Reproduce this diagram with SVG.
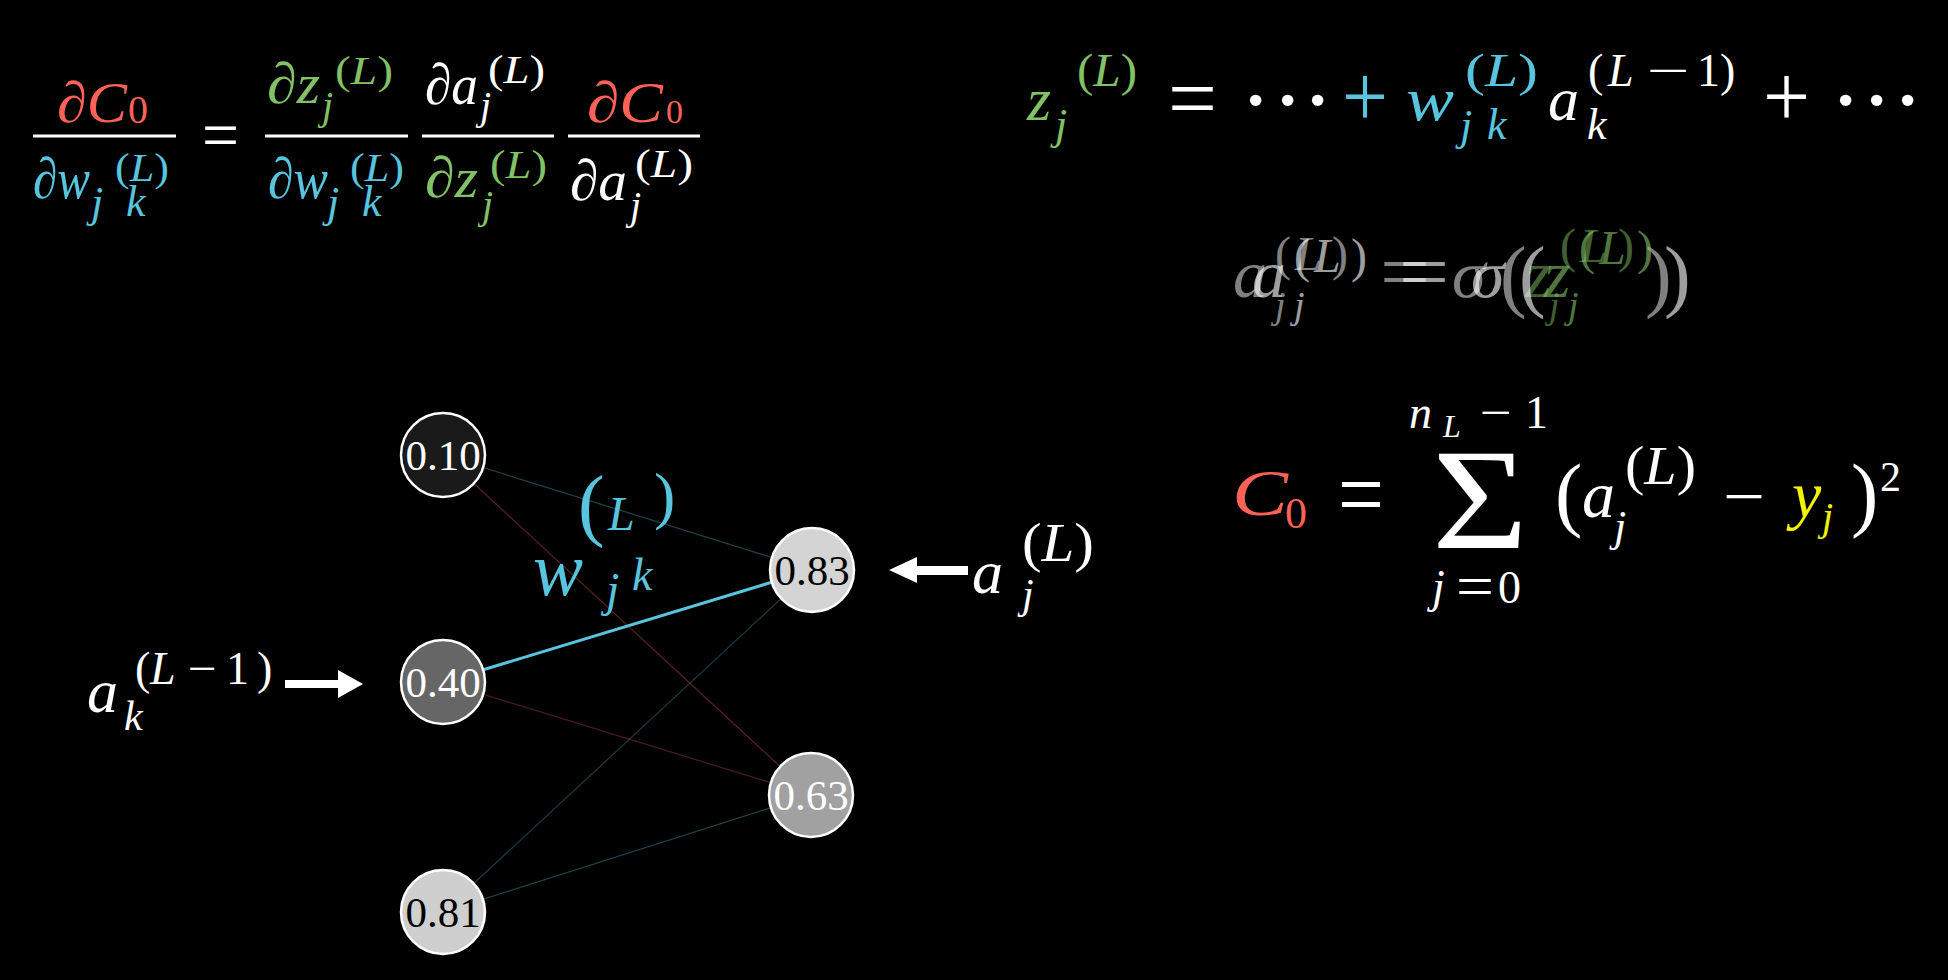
<svg xmlns="http://www.w3.org/2000/svg" width="1948" height="980" viewBox="0 0 1948 980" font-family="Liberation Serif, serif">
<style>
text{font-family:"Liberation Serif","Times New Roman",serif;}
.i{font-style:italic;}
.red{fill:#FC6255;}
.blue{fill:#58C4DD;}
.green{fill:#83C167;}
.wh{fill:#FFFFFF;}
.yel{fill:#F2F200;}
.m{font-size:58px;}
.s{font-size:40px;}
.sj{font-size:44px;}
.bar{stroke:#FFFFFF;stroke-width:3;}
.node{stroke:#FFFFFF;stroke-width:2.5;}
.nt{font-size:43px;text-anchor:middle;}
.e{stroke-width:1.2;}
</style>
<rect width="1948" height="980" fill="#000"/>

<!-- Chain rule equation -->
<g id="chain-rule">
  <text class="m i red" x="57" y="122" textLength="70" lengthAdjust="spacingAndGlyphs">∂C</text>
  <text class="s red" x="128" y="123">0</text>
  <line class="bar" x1="33" y1="136" x2="176" y2="136"/>
  <text class="m i blue" x="33" y="198" textLength="57" lengthAdjust="spacingAndGlyphs">∂w</text>
  <text class="sj i blue" x="91" y="217">j</text>
  <text class="sj i blue" x="126" y="216">k</text>
  <text class="s blue" x="115" y="181" textLength="54" lengthAdjust="spacingAndGlyphs">(<tspan class="i">L</tspan>)</text>

  <text class="wh" x="202" y="159" font-size="70" textLength="37" lengthAdjust="spacingAndGlyphs">=</text>

  <text class="m i green" x="267" y="103" textLength="53" lengthAdjust="spacingAndGlyphs">∂z</text>
  <text class="s i green" x="322" y="119">j</text>
  <text class="s green" x="335" y="84" textLength="58" lengthAdjust="spacingAndGlyphs">(<tspan class="i">L</tspan>)</text>
  <line class="bar" x1="265" y1="136" x2="408" y2="136"/>
  <text class="m i blue" x="268" y="198" textLength="60" lengthAdjust="spacingAndGlyphs">∂w</text>
  <text class="sj i blue" x="327" y="217">j</text>
  <text class="sj i blue" x="362" y="216">k</text>
  <text class="s blue" x="350" y="181" textLength="54" lengthAdjust="spacingAndGlyphs">(<tspan class="i">L</tspan>)</text>

  <text class="m i wh" x="425" y="104" textLength="53" lengthAdjust="spacingAndGlyphs">∂a</text>
  <text class="s i wh" x="480" y="119">j</text>
  <text class="s wh" x="488" y="83" textLength="57" lengthAdjust="spacingAndGlyphs">(<tspan class="i">L</tspan>)</text>
  <line class="bar" x1="422" y1="136" x2="554" y2="136"/>
  <text class="m i green" x="425" y="197" textLength="53" lengthAdjust="spacingAndGlyphs">∂z</text>
  <text class="s i green" x="482" y="218">j</text>
  <text class="s green" x="490" y="178" textLength="57" lengthAdjust="spacingAndGlyphs">(<tspan class="i">L</tspan>)</text>

  <text class="m i red" x="587" y="122" textLength="76" lengthAdjust="spacingAndGlyphs">∂C</text>
  <text class="red" x="666" y="123" font-size="34">0</text>
  <line class="bar" x1="568" y1="136" x2="700" y2="136"/>
  <text class="m i wh" x="570" y="200" textLength="57" lengthAdjust="spacingAndGlyphs">∂a</text>
  <text class="s i wh" x="630" y="219">j</text>
  <text class="s wh" x="635" y="177" textLength="58" lengthAdjust="spacingAndGlyphs">(<tspan class="i">L</tspan>)</text>
</g>

<!-- z equation -->
<g id="z-equation">
  <text class="i green" x="1027" y="120" font-size="62">z</text>
  <text class="i green" x="1055" y="139" font-size="44">j</text>
  <text class="green" x="1077" y="86" font-size="46" textLength="60" lengthAdjust="spacingAndGlyphs">(<tspan class="i">L</tspan>)</text>
  <text class="wh" x="1168" y="129" font-size="90" textLength="49" lengthAdjust="spacingAndGlyphs">=</text>
  <text class="wh" font-size="70" font-weight="bold" y="123"><tspan x="1244">·</tspan><tspan x="1276">·</tspan><tspan x="1306">·</tspan></text>
  <text class="blue" x="1342" y="126" font-size="88" textLength="46" lengthAdjust="spacingAndGlyphs">+</text>
  <text class="i blue" x="1406" y="120" font-size="62" textLength="48" lengthAdjust="spacingAndGlyphs">w</text>
  <text class="i blue" x="1460" y="140" font-size="44">j</text>
  <text class="i blue" x="1487" y="139" font-size="44">k</text>
  <text class="blue" x="1465" y="86" font-size="46" textLength="73" lengthAdjust="spacingAndGlyphs">(<tspan class="i">L</tspan>)</text>
  <text class="i wh" x="1548" y="120" font-size="62">a</text>
  <text class="i wh" x="1587" y="139" font-size="44">k</text>
  <text class="wh" y="86" font-size="46"><tspan x="1588">(</tspan><tspan x="1608" class="i">L</tspan></text>
  <text class="wh" x="1647" y="86" font-size="46" textLength="43" lengthAdjust="spacingAndGlyphs">−</text>
  <text class="wh" y="86" font-size="46"><tspan x="1697">1</tspan><tspan x="1720">)</tspan></text>
  <text class="wh" x="1763" y="126" font-size="88" textLength="47" lengthAdjust="spacingAndGlyphs">+</text>
  <text class="wh" font-size="70" font-weight="bold" y="123"><tspan x="1834">·</tspan><tspan x="1865">·</tspan><tspan x="1896">·</tspan></text>
</g>

<!-- ghosted activation equation (two overlapping copies) -->
<g id="activation-ghost">
  <g opacity="0.5">
    <text class="i wh" x="1233" y="297" font-size="68">a</text>
    <text class="i wh" x="1275" y="318" font-size="38">j</text>
    <text class="wh" y="270" font-size="48"><tspan x="1275">(</tspan><tspan x="1295" class="i">L</tspan><tspan x="1332">)</tspan></text>
    <text class="wh" x="1380" y="299" font-size="80" textLength="50" lengthAdjust="spacingAndGlyphs">=</text>
    <text class="i wh" x="1452" y="297" font-size="68">σ</text>
    <text class="wh" x="1500" y="302" font-size="80">(</text>
    <text class="i green" x="1525" y="297" font-size="68">z</text>
    <text class="i green" x="1549" y="318" font-size="38">j</text>
    <text class="green" y="262" font-size="48"><tspan x="1560">(</tspan><tspan x="1580" class="i">L</tspan><tspan x="1618">)</tspan></text>
    <text class="wh" x="1645" y="302" font-size="80">)</text>
  </g>
  <g opacity="0.62" transform="translate(19,0)">
    <text class="i wh" x="1233" y="297" font-size="68">a</text>
    <text class="i wh" x="1275" y="318" font-size="38">j</text>
    <text class="wh" y="272" font-size="48"><tspan x="1275">(</tspan><tspan x="1295" class="i">L</tspan><tspan x="1332">)</tspan></text>
    <text class="wh" x="1380" y="299" font-size="80" textLength="50" lengthAdjust="spacingAndGlyphs">=</text>
    <text class="i wh" x="1452" y="297" font-size="68">σ</text>
    <text class="wh" x="1500" y="302" font-size="80">(</text>
    <text class="i green" x="1525" y="297" font-size="68">z</text>
    <text class="i green" x="1549" y="318" font-size="38">j</text>
    <text class="green" y="264" font-size="48"><tspan x="1560">(</tspan><tspan x="1580" class="i">L</tspan><tspan x="1618">)</tspan></text>
    <text class="wh" x="1645" y="302" font-size="80">)</text>
  </g>
</g>

<!-- cost equation -->
<g id="cost-equation">
  <text class="i red" x="1232" y="515" font-size="66" textLength="56" lengthAdjust="spacingAndGlyphs">C</text>
  <text class="red" x="1285" y="528" font-size="44">0</text>
  <text class="wh" x="1338" y="528" font-size="100" textLength="46" lengthAdjust="spacingAndGlyphs">=</text>
  <text class="i wh" x="1409" y="428" font-size="46">n</text>
  <text class="i wh" x="1443" y="437" font-size="32">L</text>
  <text class="wh" x="1480" y="428" font-size="46" textLength="32" lengthAdjust="spacingAndGlyphs">−</text>
  <text class="wh" x="1525" y="428" font-size="46">1</text>
  <text class="wh" x="1432" y="548" font-size="145" textLength="96" lengthAdjust="spacingAndGlyphs">Σ</text>
  <text class="i wh" x="1432" y="602" font-size="46">j</text>
  <text class="wh" x="1456" y="606" font-size="60" textLength="38" lengthAdjust="spacingAndGlyphs">=</text>
  <text class="wh" x="1498" y="603" font-size="46">0</text>
  <text class="wh" x="1555" y="521" font-size="82">(</text>
  <text class="i wh" x="1582" y="517" font-size="66">a</text>
  <text class="i wh" x="1614" y="541" font-size="44">j</text>
  <text class="wh" x="1625" y="484" font-size="54" textLength="71" lengthAdjust="spacingAndGlyphs">(<tspan class="i">L</tspan>)</text>
  <text class="wh" x="1723" y="518" font-size="64" textLength="42" lengthAdjust="spacingAndGlyphs">−</text>
  <text class="i yel" x="1792" y="517" font-size="66">y</text>
  <text class="i yel" x="1822" y="530" font-size="40">j</text>
  <text class="wh" x="1851" y="521" font-size="82">)</text>
  <text class="wh" x="1880" y="491" font-size="42">2</text>
</g>

<!-- connectors -->
<g id="connectors">
  <line class="e" x1="443" y1="455" x2="812" y2="570" stroke="#58C4DD" stroke-opacity="0.35"/>
  <line class="e" x1="443" y1="455" x2="811" y2="795" stroke="#FC6255" stroke-opacity="0.35"/>
  <line x1="443" y1="682" x2="812" y2="570" stroke="#58C4DD" stroke-width="3"/>
  <line class="e" x1="443" y1="682" x2="811" y2="795" stroke="#FC6255" stroke-opacity="0.3"/>
  <line class="e" x1="443" y1="912" x2="812" y2="570" stroke="#58C4DD" stroke-opacity="0.3"/>
  <line class="e" x1="443" y1="912" x2="811" y2="795" stroke="#58C4DD" stroke-opacity="0.35"/>
  <polygon points="285,680 338,680 338,670 363,684 338,698 338,688 285,688" fill="#FFFFFF"/>
  <polygon points="968,566 917,566 917,557 889,570 917,583 917,575 968,575" fill="#FFFFFF"/>
</g>

<!-- weight label -->
<g id="weight-label">
  <text class="i blue" x="533" y="595" font-size="76" textLength="50" lengthAdjust="spacingAndGlyphs">w</text>
  <text class="i blue" x="606" y="606" font-size="48">j</text>
  <text class="i blue" x="632" y="590" font-size="46">k</text>
  <text class="blue" x="578" y="531" font-size="80">(</text>
  <text class="i blue" x="608" y="530" font-size="48">L</text>
  <text class="blue" x="654" y="517" font-size="64">)</text>
</g>

<!-- nodes -->
<g id="node-0-10"><circle class="node" cx="443" cy="455" r="42" fill="#1a1a1a"/><text class="nt wh" x="443" y="470">0.10</text></g>
<g id="node-0-40"><circle class="node" cx="443" cy="682" r="42" fill="#666666"/><text class="nt wh" x="443" y="697">0.40</text></g>
<g id="node-0-81"><circle class="node" cx="443" cy="912" r="42" fill="#cfcfcf"/><text class="nt" x="443" y="927" fill="#000">0.81</text></g>
<g id="node-0-83"><circle class="node" cx="812" cy="570" r="42" fill="#d4d4d4"/><text class="nt" x="812" y="585" fill="#000">0.83</text></g>
<g id="node-0-63"><circle class="node" cx="811" cy="795" r="42" fill="#a1a1a1"/><text class="nt wh" x="811" y="810">0.63</text></g>

<!-- arrow labels -->
<g id="label-a-k">
  <text class="i wh" x="87" y="712" font-size="62">a</text>
  <text class="i wh" x="124" y="730" font-size="42">k</text>
  <text class="wh" y="684" font-size="46"><tspan x="135">(</tspan><tspan x="150" class="i">L</tspan></text>
  <text class="wh" x="188" y="684" font-size="46" textLength="29" lengthAdjust="spacingAndGlyphs">−</text>
  <text class="wh" y="684" font-size="46"><tspan x="226">1</tspan><tspan x="257">)</tspan></text>
</g>
<g id="label-a-j">
  <text class="i wh" x="972" y="593" font-size="62">a</text>
  <text class="i wh" x="1022" y="608" font-size="42">j</text>
  <text class="wh" x="1022" y="561" font-size="54" textLength="72" lengthAdjust="spacingAndGlyphs">(<tspan class="i">L</tspan>)</text>
</g>
</svg>
